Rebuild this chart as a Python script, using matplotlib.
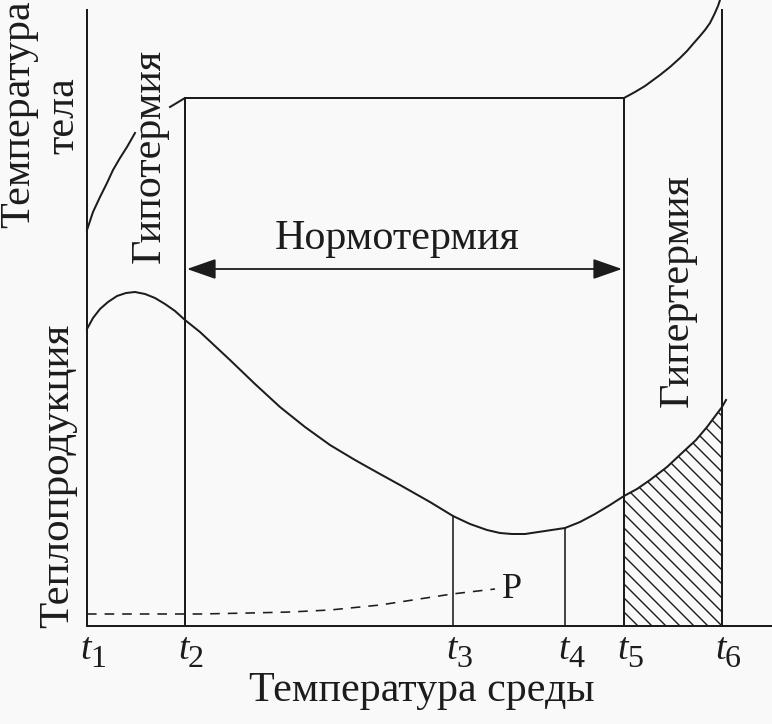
import numpy as np
import matplotlib.pyplot as plt

# schematic coordinates (x to the right, y measured downward like the original figure)
t_pos = [87, 185, 453, 565, 624, 722]
t_names = ['1', '2', '3', '4', '5', '6']
base_y = 626
norm_y = 98

# body temperature curve pieces
body_left_x = [87, 93, 100, 107, 113, 120, 127, 135]
body_left_y = [230, 212, 197, 183, 170, 158, 147, 133]
body_mid_x = [170, 185, 624]
body_mid_y = [107, 98, 98]
body_right_x = [624, 635, 645, 660, 670, 680, 687, 693, 700, 705, 710, 714, 718, 720]
body_right_y = [98, 92, 86, 75, 67, 58, 51, 44, 36, 30, 23, 15, 6, 0]

# heat production curve
heat_x = [87, 93, 100, 108, 117, 126, 135, 145, 155, 165, 175, 185, 200, 215,
          230, 255, 280, 305, 330, 355, 380, 400, 430, 453, 470, 487, 500, 512,
          525, 545, 565, 580, 595, 610, 624, 637, 650, 667, 683, 696, 707, 716,
          722, 726]
heat_y = [329, 318, 309, 302, 296, 293, 292, 294, 298, 304, 311, 320, 332, 346,
          360, 384, 407, 427, 445, 460, 474, 485, 502, 516, 524, 530, 533, 534,
          534, 531, 528, 522, 514, 505, 496, 489, 480, 467, 452, 440, 427, 415,
          407, 400]

# dashed curve P
p_x = [87, 200, 250, 290, 330, 380, 452, 495]
p_y = [614, 614, 613, 612, 610, 605, 594, 589]

ink = '#1c1c1c'
plt.rcParams['font.family'] = ['Liberation Serif', 'DejaVu Serif']

fig = plt.figure(figsize=(772 / 72, 724 / 72), dpi=72, facecolor='#f9f9f9')
ax = fig.add_axes([0, 0, 1, 1])
ax.set_xlim(0, 772)
ax.set_ylim(724, 0)
ax.axis('off')

lw = 2
# axes of the schematic
ax.plot([t_pos[0], t_pos[0]], [10, base_y], color=ink, lw=lw)
ax.plot([t_pos[0], 772], [base_y, base_y], color=ink, lw=lw)

# vertical markers
ax.plot([t_pos[1], t_pos[1]], [norm_y, base_y], color=ink, lw=lw)
ax.plot([t_pos[4], t_pos[4]], [norm_y, base_y], color=ink, lw=lw)
ax.plot([t_pos[5], t_pos[5]], [10, base_y], color=ink, lw=lw)
hx = np.array(heat_x)
hy = np.array(heat_y)
for t in (t_pos[2], t_pos[3]):
    ax.plot([t, t], [np.interp(t, hx, hy), base_y], color=ink, lw=1.6)

# body temperature
ax.plot(body_left_x, body_left_y, color=ink, lw=lw)
ax.plot(body_mid_x, body_mid_y, color=ink, lw=lw)
ax.plot(body_right_x, body_right_y, color=ink, lw=lw)

# hatched hyperthermia area: diagonal lines clipped to the area under the curve
m = (hx >= t_pos[4]) & (hx <= t_pos[5])
area = ax.fill_between(hx[m], hy[m], base_y, facecolor='none', linewidth=0)
step = 14
for c in np.arange(t_pos[4] - 240, t_pos[5] + 10, step):
    ln, = ax.plot([c, c + 240], [base_y - 240, base_y], color=ink, lw=1.4)
    ln.set_clip_path(area.get_paths()[0], ax.transData)

# heat production
ax.plot(heat_x, heat_y, color=ink, lw=lw)

# P line
ax.plot(p_x, p_y, color=ink, lw=1.6, dashes=(6, 5))
ax.text(p_x[-1] + 7, p_y[-1] + 1, 'P', fontsize=36, color=ink,
        ha='left', va='center')

# normothermia arrow
ax.annotate('', xy=(t_pos[4] - 2, 269), xytext=(t_pos[1] + 2, 269),
            arrowprops=dict(arrowstyle='<|-|>,head_length=1.0,head_width=0.35',
                            mutation_scale=25, color=ink, lw=1.8,
                            shrinkA=0, shrinkB=0))
ax.text(397, 239, 'Нормотермия', fontsize=42, color=ink, ha='center', va='center')

# rotated labels
fs = 42
ax.text(19, 114, 'Температура', fontsize=fs, color=ink, rotation=90,
        ha='center', va='center')
ax.text(63, 116, 'тела', fontsize=fs, color=ink, rotation=90,
        ha='center', va='center')
ax.text(150, 156, 'Гипотермия', fontsize=fs, color=ink, rotation=90,
        ha='center', va='center')
ax.text(677, 291, 'Гипертермия', fontsize=fs, color=ink, rotation=90,
        ha='center', va='center')
ax.text(58, 476, 'Теплопродукция', fontsize=43, color=ink, rotation=90,
        ha='center', va='center')

# t labels
for t, n in zip(t_pos, t_names):
    ax.text(t + 4, 659, 't', fontsize=38, style='italic', color=ink,
            ha='right', va='baseline')
    ax.text(t + 3, 667, n, fontsize=32, color=ink, ha='left', va='baseline')

ax.text(422, 701, 'Температура среды', fontsize=42, color=ink,
        ha='center', va='baseline')

fig.savefig('out.png', dpi=72, facecolor=fig.get_facecolor())
